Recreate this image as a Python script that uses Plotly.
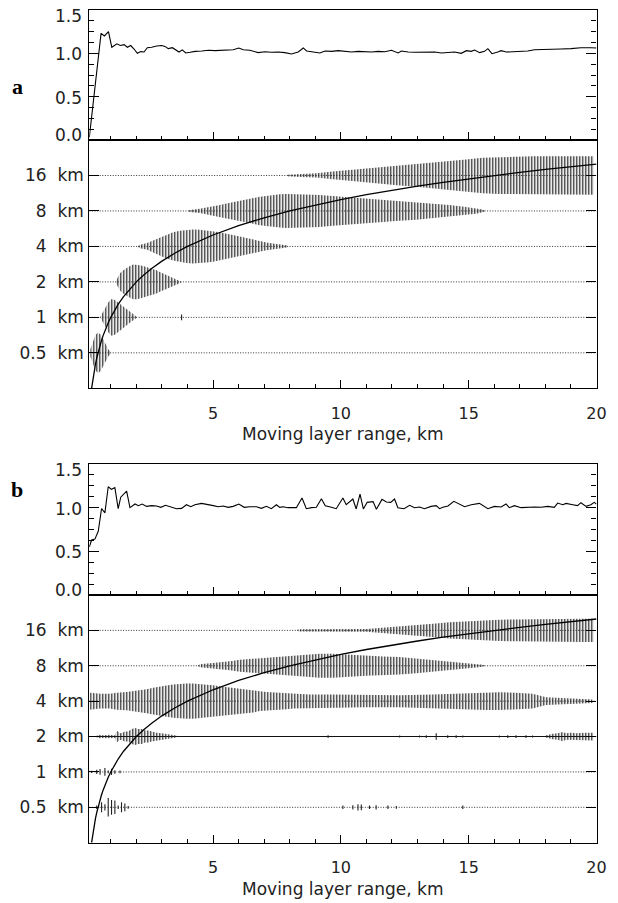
import math
import plotly.graph_objects as go

W, H = 618, 903

# ---------------- top panels: ratio curves ----------------
ratio_a_x = [0.16, 0.62, 0.75, 0.91, 1.04, 1.24, 1.37, 1.52, 1.65, 1.78, 1.91, 2.04, 2.17, 2.30, 2.43, 2.60, 2.80, 2.99, 3.12, 3.25,
             3.41, 3.54, 3.67, 3.80, 3.93, 4.10, 4.30, 4.56, 4.82, 5.08, 5.34, 5.60, 5.79, 6.01, 6.18, 6.44, 6.77, 7.03, 7.29, 7.55,
             7.81, 8.07, 8.33, 8.53, 8.66, 8.92, 9.18, 9.38, 9.64, 9.90, 10.16, 10.42, 10.68, 10.94, 11.20, 11.46, 11.72, 11.98, 12.24, 12.37,
             12.63, 12.89, 13.15, 13.41, 13.67, 13.93, 14.19, 14.45, 14.71, 14.91, 15.10, 15.23, 15.43, 15.62, 15.75, 15.91, 16.14, 16.27, 16.47, 16.79,
             17.05, 17.31, 17.57, 17.83, 18.22, 18.61, 19.00, 19.39, 19.79, 20.0]
ratio_a_y = [0.03, 1.23, 1.20, 1.25, 1.07, 1.11, 1.09, 1.10, 1.07, 1.09, 1.05, 1.00, 1.02, 1.015, 1.065, 1.07, 1.085, 1.09, 1.08, 1.054,
             1.065, 1.035, 1.015, 1.04, 1.004, 1.012, 1.023, 1.027, 1.035, 1.031, 1.035, 1.035, 1.042, 1.062, 1.042, 1.035, 1.008, 1.019, 1.012, 1.015,
             1.008, 0.992, 1.015, 1.062, 1.027, 1.015, 1.004, 1.027, 1.023, 1.031, 1.023, 1.015, 1.023, 1.019, 1.015, 1.023, 1.019, 1.035, 1.004, 1.027,
             1.015, 1.012, 1.012, 1.019, 1.015, 1.004, 1.012, 1.015, 1.000, 1.031, 1.023, 1.038, 1.008, 1.023, 1.054, 0.996, 1.015, 1.031, 1.015, 1.019,
             1.027, 1.027, 1.042, 1.046, 1.046, 1.050, 1.054, 1.065, 1.065, 1.062]

ratio_b_x = [0.16, 0.25, 0.38, 0.51, 0.64, 0.77, 0.90, 1.03, 1.16, 1.29, 1.39, 1.62, 1.75, 1.95, 2.08, 2.23, 2.40, 2.60, 2.79, 2.96,
             3.14, 3.31, 3.57, 3.77, 3.96, 4.13, 4.29, 4.55, 4.81, 5.01, 5.20, 5.40, 5.59, 5.79, 6.01, 6.22, 6.44, 6.70, 6.89, 7.09,
             7.28, 7.48, 7.61, 7.74, 7.93, 8.26, 8.48, 8.65, 8.85, 9.04, 9.24, 9.39, 9.63, 9.82, 10.08, 10.21, 10.47, 10.60, 10.75, 10.88,
             11.03, 11.26, 11.39, 11.61, 11.78, 11.95, 12.10, 12.23, 12.47, 12.69, 12.88, 13.08, 13.27, 13.53, 13.73, 13.86, 13.99, 14.19, 14.42, 14.64,
             14.84, 15.10, 15.42, 15.75, 16.01, 16.27, 16.46, 16.59, 16.79, 17.05, 17.31, 17.57, 17.83, 18.09, 18.35, 18.48, 18.68, 18.81, 19.07, 19.26,
             19.39, 19.59, 19.78, 19.91, 20.0]
ratio_b_y = [0.55, 0.63, 0.64, 0.73, 0.99, 0.94, 1.24, 1.21, 1.23, 0.99, 1.12, 1.19, 1.00, 1.042, 1.023, 1.042, 1.015, 1.023, 1.019, 1.004,
             1.027, 1.008, 0.988, 0.992, 1.034, 1.011, 1.034, 1.049, 1.038, 1.023, 1.011, 1.019, 1.004, 1.015, 1.042, 1.004, 1.011, 1.011, 0.992, 1.015,
             0.988, 1.034, 1.004, 1.011, 1.0, 1.0, 1.11, 0.988, 1.0, 1.004, 1.103, 1.023, 1.004, 0.988, 1.11, 1.034, 1.099, 0.985, 1.156, 0.985,
             1.061, 1.069, 0.981, 1.095, 1.065, 1.061, 1.099, 1.0, 0.988, 1.027, 1.0, 1.008, 0.988, 1.015, 1.023, 0.988, 1.004, 1.019, 1.073, 1.042,
             1.011, 1.034, 1.049, 0.988, 1.015, 1.008, 1.042, 1.0, 1.023, 1.0, 1.008, 1.008, 1.004, 1.015, 1.004, 1.053, 1.034, 1.049, 1.034, 1.023,
             1.057, 1.015, 1.034, 1.061, 1.04]

# ---------------- lower panels ----------------
levels_km = [0.5, 1, 2, 4, 8, 16]
level_labels = ["0.5 \u00a0km", "1 \u00a0km", "2 \u00a0km", "4 \u00a0km", "8 \u00a0km", "16 \u00a0km"]
x_ticks = [5, 10, 15, 20]
top_ticks = [0, 0.5, 1.0, 1.5]
top_labels = ["0.0", "0.5", "1.0", "1.5"]

# reference curve: scale equal to moving-layer range
curve_x = [0.25, 0.27, 0.3, 0.33, 0.36, 0.4, 0.45, 0.5, 0.56, 0.63, 0.7, 0.8, 0.9, 1.0, 1.15, 1.3, 1.5, 1.75, 2.0, 2.3,
           2.6, 3.0, 3.5, 4.0, 4.5, 5, 6, 7, 8, 9, 10, 11, 12, 13, 14, 15, 16, 17, 18, 19, 20]
curve_km = [0.25, 0.27, 0.3, 0.33, 0.36, 0.4, 0.45, 0.5, 0.56, 0.63, 0.7, 0.8, 0.9, 1.0, 1.15, 1.3, 1.5, 1.75, 2.0, 2.3,
            2.6, 3.0, 3.5, 4.0, 4.5, 5, 6, 7, 8, 9, 10, 11, 12, 13, 14, 15, 16, 17, 18, 19, 20]

# envelopes (half-height in octaves) -- panel a
a05_x = [0.2, 0.3, 0.4, 0.5, 0.6, 0.7, 0.8, 0.9, 1.0]
a05_amp = [0.1, 0.3, 0.5, 0.57, 0.52, 0.4, 0.25, 0.1, 0.02]
a1_x = [0.58, 0.64, 0.77, 0.90, 1.03, 1.16, 1.29, 1.42, 1.55, 1.68, 1.82, 1.95, 2.02]
a1_amp = [0.0, 0.09, 0.24, 0.42, 0.52, 0.49, 0.42, 0.33, 0.26, 0.19, 0.11, 0.05, 0.0]
a2_x = [1.18, 1.23, 1.36, 1.49, 1.62, 1.75, 1.88, 2.01, 2.14, 2.27, 2.40, 2.53, 2.66, 2.79, 2.92, 3.05, 3.18, 3.31, 3.44, 3.57, 3.70, 3.78]
a2_amp = [0.0, 0.08, 0.24, 0.33, 0.40, 0.45, 0.49, 0.49, 0.47, 0.45, 0.42, 0.40, 0.36, 0.33, 0.28, 0.24, 0.19, 0.14, 0.11, 0.08, 0.04, 0.0]
a4_x = [2.05, 2.14, 2.40, 2.66, 2.92, 3.18, 3.44, 3.70, 3.96, 4.22, 4.48, 4.74, 5.00, 5.27, 5.53, 5.79, 6.05, 6.31, 6.57, 6.83, 7.09, 7.35, 7.61, 7.87, 7.95]
a4_amp = [0.0, 0.05, 0.09, 0.17, 0.26, 0.34, 0.40, 0.44, 0.47, 0.48, 0.47, 0.45, 0.43, 0.40, 0.36, 0.33, 0.28, 0.24, 0.19, 0.15, 0.11, 0.08, 0.06, 0.03, 0.0]
a8_x = [4.0, 4.09, 4.48, 4.74, 5.0, 5.27, 5.53, 5.79, 6.05, 6.31, 6.57, 6.83, 7.09, 7.35, 7.61, 7.87, 8.13, 8.39, 8.65, 8.91, 9.17,
        9.69, 10.34, 10.99, 11.65, 12.3, 12.95, 13.6, 14.25, 14.9, 15.29, 15.55, 15.65]
a8_amp = [0.0, 0.03, 0.06, 0.09, 0.13, 0.17, 0.21, 0.25, 0.28, 0.33, 0.36, 0.40, 0.42, 0.45, 0.47, 0.48, 0.48, 0.48, 0.47, 0.46, 0.45,
          0.42, 0.40, 0.36, 0.32, 0.28, 0.25, 0.21, 0.17, 0.11, 0.08, 0.04, 0.0]
a16_x = [7.9, 8.39, 9.04, 9.69, 10.34, 10.99, 11.65, 12.3, 12.95, 13.6, 14.25, 14.9, 15.55, 16.2, 16.85, 17.5, 18.16, 18.81, 19.46, 19.9]
a16_amp = [0.02, 0.04, 0.06, 0.11, 0.15, 0.19, 0.23, 0.28, 0.32, 0.36, 0.41, 0.45, 0.50, 0.52, 0.53, 0.54, 0.54, 0.54, 0.54, 0.54]
a_spike_x = [3.77]
a_spike_lv = [1]
a_spike_amp = [0.08]

# envelopes -- panel b
b2_x = [0.45, 0.58, 0.71, 0.84, 0.97, 1.10, 1.17, 1.23, 1.36, 1.46, 1.55, 1.68, 1.82, 1.95, 2.08, 2.21, 2.34, 2.47, 2.60, 2.79, 2.99, 3.18, 3.38, 3.57, 3.65]
b2_amp = [0.03, 0.05, 0.04, 0.05, 0.05, 0.04, 0.04, 0.17, 0.09, 0.11, 0.14, 0.14, 0.21, 0.24, 0.21, 0.21, 0.17, 0.17, 0.14, 0.11, 0.09, 0.07, 0.05, 0.03, 0.0]
b2r_x = [18.0, 18.16, 18.29, 18.48, 18.68, 18.81, 19.0, 19.2, 19.39, 19.59, 19.78, 19.88]
b2r_amp = [0.03, 0.06, 0.08, 0.09, 0.13, 0.09, 0.11, 0.09, 0.11, 0.11, 0.11, 0.11]
b4_x = [0.19, 0.58, 0.97, 1.23, 1.62, 1.88, 2.14, 2.40, 2.66, 2.92, 3.18, 3.44, 3.70, 3.96, 4.22, 4.48, 4.74, 5.00, 5.27, 5.53,
        5.79, 6.05, 6.31, 6.57, 6.83, 7.09, 7.35, 7.61, 7.87, 8.13, 8.39, 8.78, 9.69, 10.99, 12.30, 13.60, 14.25, 14.90, 15.29, 15.68,
        16.2, 16.85, 17.5, 18.03, 18.55, 19.07, 19.59, 19.85]
b4_amp = [0.24, 0.21, 0.21, 0.24, 0.26, 0.28, 0.31, 0.34, 0.38, 0.42, 0.44, 0.47, 0.49, 0.50, 0.50, 0.49, 0.47, 0.45, 0.42, 0.40,
          0.38, 0.36, 0.34, 0.32, 0.28, 0.26, 0.25, 0.24, 0.23, 0.21, 0.20, 0.19, 0.19, 0.17, 0.17, 0.19, 0.21, 0.23, 0.24, 0.25,
          0.25, 0.24, 0.21, 0.11, 0.09, 0.08, 0.06, 0.05]
b8_x = [4.4, 4.48, 4.88, 5.27, 5.66, 6.05, 6.44, 6.83, 7.22, 7.61, 8.0, 8.39, 8.78, 9.17, 9.69, 10.34, 10.99, 11.65, 12.30, 12.95,
        13.60, 14.25, 14.90, 15.29, 15.55, 15.65]
b8_amp = [0.0, 0.04, 0.07, 0.09, 0.13, 0.17, 0.19, 0.22, 0.25, 0.26, 0.28, 0.31, 0.32, 0.34, 0.34, 0.31, 0.28, 0.26, 0.25, 0.21,
          0.17, 0.13, 0.08, 0.05, 0.03, 0.0]
b16_x = [8.3, 8.39, 10.99, 11.38, 11.78, 12.30, 12.95, 13.60, 14.25, 14.90, 15.55, 16.2, 16.85, 17.5, 18.16, 18.81, 19.46, 19.9]
b16_amp = [0.02, 0.03, 0.04, 0.06, 0.08, 0.11, 0.15, 0.19, 0.23, 0.26, 0.28, 0.30, 0.31, 0.32, 0.32, 0.33, 0.33, 0.33]
b_spike_x = [9.5, 12.3, 13.08, 13.34, 13.73, 14.18, 14.51, 14.77, 16.2, 16.53, 16.85, 17.24, 17.5,
             0.25, 0.45, 0.58, 0.77, 0.90, 1.03, 1.16, 1.36,
             0.45, 0.64, 0.77, 0.90, 1.03, 1.16, 1.29, 1.42, 1.55, 1.68, 10.08, 10.47, 10.67, 10.80, 11.12, 11.38, 11.84, 12.17, 14.77]
b_spike_lv = [2] * 13 + [1] * 8 + [0.5] * 19
b_spike_amp = [0.04, 0.03, 0.03, 0.04, 0.09, 0.04, 0.04, 0.03, 0.03, 0.04, 0.04, 0.04, 0.03,
               0.03, 0.06, 0.08, 0.11, 0.04, 0.09, 0.05, 0.04,
               0.05, 0.14, 0.09, 0.26, 0.21, 0.19, 0.05, 0.14, 0.11, 0.04, 0.05, 0.06, 0.09, 0.08, 0.05, 0.06, 0.05, 0.04, 0.05]

X_MIN, X_MAX = 0.16, 20.0

# ---------------- layout geometry (pixels) ----------------
PX_L, PX_R = 89.3, 596.5
A_TOP, A_MID, A_BOT = 10, 140, 388.3
B_TOP, B_MID, B_BOT = 464, 595, 842.7


def ydom(top_px, bot_px):
    return [1 - bot_px / H, 1 - top_px / H]


XDOM = [PX_L / W, PX_R / W]
FONT = "DejaVu Sans"
TXT = "#222"

fig = go.Figure()

pattern = dict(shape="|", size=3, solidity=0.4, fgcolor="#1a1a1a", bgcolor="rgba(255,255,255,0)", fillmode="replace")


def add_blob(xs, amps, level, xa, ya):
    top = [level * 2 ** a for a in amps]
    bot = [level * 2 ** (-a) for a in amps]
    fig.add_trace(go.Scatter(x=list(xs) + list(xs)[::-1], y=top + bot[::-1], mode="lines", fill="toself",
                             fillcolor="#1a1a1a", fillpattern=pattern, line=dict(width=0, color="rgba(0,0,0,0)"),
                             hoverinfo="skip", showlegend=False, xaxis=xa, yaxis=ya))


def add_spikes(xs, lvs, amps, xa, ya):
    sx, sy = [], []
    for x, lv, a in zip(xs, lvs, amps):
        sx += [x, x, None]
        sy += [lv * 2 ** (-a), lv * 2 ** a, None]
    fig.add_trace(go.Scatter(x=sx, y=sy, mode="lines", line=dict(width=1.1, color="#222"),
                             hoverinfo="skip", showlegend=False, xaxis=xa, yaxis=ya))


def add_baselines(xa, ya, solid_levels=()):
    for lv in levels_km:
        solid = lv in solid_levels
        fig.add_trace(go.Scatter(x=[X_MIN, X_MAX], y=[lv, lv], mode="lines",
                                 line=dict(width=1.1 if solid else 1, color="#111" if solid else "#333",
                                           dash="solid" if solid else "1px,1.6px"),
                                 hoverinfo="skip", showlegend=False, xaxis=xa, yaxis=ya))


# panel a
fig.add_trace(go.Scatter(x=ratio_a_x, y=ratio_a_y, mode="lines", line=dict(color="black", width=1.1),
                         hoverinfo="skip", showlegend=False, xaxis="x", yaxis="y"))
add_baselines("x2", "y2")
for xs, amps, lv in [(a05_x, a05_amp, 0.5), (a1_x, a1_amp, 1), (a2_x, a2_amp, 2), (a4_x, a4_amp, 4),
                     (a8_x, a8_amp, 8), (a16_x, a16_amp, 16)]:
    add_blob(xs, amps, lv, "x2", "y2")
add_spikes(a_spike_x, a_spike_lv, a_spike_amp, "x2", "y2")
fig.add_trace(go.Scatter(x=curve_x, y=curve_km, mode="lines", line=dict(color="black", width=1.3),
                         hoverinfo="skip", showlegend=False, xaxis="x2", yaxis="y2"))

# panel b
fig.add_trace(go.Scatter(x=ratio_b_x, y=ratio_b_y, mode="lines", line=dict(color="black", width=1.1),
                         hoverinfo="skip", showlegend=False, xaxis="x3", yaxis="y3"))
add_baselines("x4", "y4", solid_levels=(2,))
for xs, amps, lv in [(b2_x, b2_amp, 2), (b2r_x, b2r_amp, 2), (b4_x, b4_amp, 4), (b8_x, b8_amp, 8), (b16_x, b16_amp, 16)]:
    add_blob(xs, amps, lv, "x4", "y4")
add_spikes(b_spike_x, b_spike_lv, b_spike_amp, "x4", "y4")
fig.add_trace(go.Scatter(x=curve_x, y=curve_km, mode="lines", line=dict(color="black", width=1.3),
                         hoverinfo="skip", showlegend=False, xaxis="x4", yaxis="y4"))

axline = dict(showline=True, linecolor="black", linewidth=1.2, showgrid=False, zeroline=False,
              tickcolor="black", tickwidth=1, automargin=False)


def xaxis(anchor, labels):
    return dict(axline, domain=XDOM, anchor=anchor, range=[X_MIN, X_MAX], mirror=True, ticks="inside",
                tickmode="array", tickvals=x_ticks, ticklen=8, showticklabels=labels,
                tickfont=dict(family=FONT, size=16, color=TXT), ticklabelstandoff=10,
                minor=dict(ticks="inside", dtick=1, tick0=0, ticklen=4, tickcolor="black", showgrid=False))


def ytop(anchor, dom):
    return dict(axline, domain=dom, anchor=anchor, range=[0, 1.5], mirror="ticks", ticks="inside",
                tickmode="array", tickvals=top_ticks, ticklen=10, showticklabels=False,
                minor=dict(ticks="inside", dtick=0.125, tick0=0, ticklen=5, tickcolor="black", showgrid=False))


def ylow(anchor, dom):
    return dict(axline, domain=dom, anchor=anchor, type="log", range=[math.log10(0.25), math.log10(32)],
                mirror="ticks", ticks="inside", tickmode="array", tickvals=levels_km, ticktext=level_labels,
                ticklen=10, tickfont=dict(family=FONT, size=17, color=TXT), ticklabelstandoff=1)


fig.update_layout(
    width=W, height=H, margin=dict(l=0, r=0, t=0, b=0, autoexpand=False),
    paper_bgcolor="white", plot_bgcolor="white", showlegend=False,
    xaxis=xaxis("y", False), yaxis=ytop("x", ydom(A_TOP, A_MID)),
    xaxis2=xaxis("y2", True), yaxis2=ylow("x2", ydom(A_MID, A_BOT)),
    xaxis3=xaxis("y3", False), yaxis3=ytop("x3", ydom(B_TOP, B_MID)),
    xaxis4=xaxis("y4", True), yaxis4=ylow("x4", ydom(B_MID, B_BOT)),
)

# top-panel tick labels (end labels sit slightly inside the frame, as in the original)
label_shift = {0: 5, 0.5: -1, 1.0: -1, 1.5: -6}
for yref in ["y", "y3"]:
    for v, t in zip(top_ticks, top_labels):
        fig.add_annotation(text=t, xref="paper", yref=yref, x=83.5 / W, y=v, yshift=label_shift[v],
                           showarrow=False, xanchor="right", yanchor="middle",
                           font=dict(family=FONT, size=17, color=TXT))

title = "Moving layer range, km"
xc = (PX_L + PX_R) / 2 / W
for ypx in [434, 889]:
    fig.add_annotation(text=title, xref="paper", yref="paper", x=xc, y=1 - ypx / H, showarrow=False,
                       xanchor="center", yanchor="middle", font=dict(family=FONT, size=17, color=TXT))
for lab, ypx in [("a", 87), ("b", 490)]:
    fig.add_annotation(text="<b>%s</b>" % lab, xref="paper", yref="paper", x=17 / W, y=1 - ypx / H,
                       showarrow=False, xanchor="center", yanchor="middle",
                       font=dict(family="Liberation Serif", size=22, color="black"))

fig.write_html("out.html", config={"displayModeBar": False},
               post_script="document.body.style.margin='0';document.body.style.overflow='hidden';")
